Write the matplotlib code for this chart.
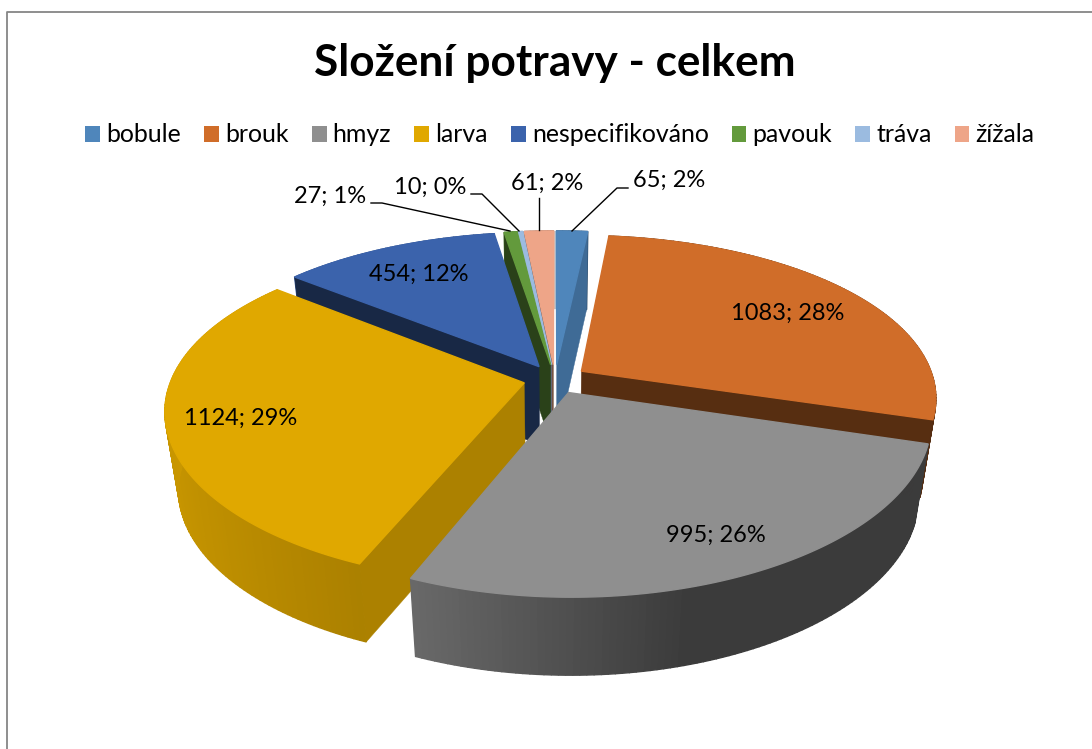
import numpy as np
import matplotlib
matplotlib.use("Agg")
import matplotlib.pyplot as plt
from matplotlib.patches import Patch, Polygon
from matplotlib.lines import Line2D

categories = ["bobule", "brouk", "hmyz", "larva", "nespecifikováno", "pavouk", "tráva", "žížala"]
values = [65, 1083, 995, 1124, 454, 27, 10, 61]
percents = [2, 28, 26, 29, 12, 1, 0, 2]
colors = ["#4f86bb", "#d06d29", "#8f8f8f", "#e0a800", "#3b63ac", "#639a3c", "#9bbbe0", "#eea588"]
face_shade = [0.8, 0.42, 0.5, 0.77, 0.4, 0.42, 0.6, 0.5]
# which cut face of a slice can be seen: 0 start, -1 end
visible_faces = [[-1], [-1], [], [0], [0], [0], [0], [0]]

plt.rcParams["font.family"] = ["Lato", "DejaVu Sans"]

# 3d look: disc (u, v) -> pixels, with a bit of perspective
CX, CY = 555, 375
A, B, KX, KY = 351, 161, 0.18, 0.2
EXPLODE = 0.09
APEX_DROP = 0.025
DEPTH = 78
LOWER = 0.965


def project(u, v, lower=False):
    x = A * u / (1 + KX * v)
    y = B * v / (1 + KY * v)
    if lower:
        return CX + x * LOWER, CY - y + DEPTH
    return CX + x, CY - y


def shade(color, f):
    return tuple(c * f for c in matplotlib.colors.to_rgb(color))


fig = plt.figure(figsize=(10.92, 7.49), dpi=100)
ax = fig.add_axes([0, 0, 1, 1])
ax.set_xlim(0, 1092)
ax.set_ylim(749, 0)
ax.axis("off")

# chart border, only top and left are in the shot
ax.plot([6.5, 6.5, 1092], [749, 11.5, 11.5], color="#868686", lw=1.3)

angles = np.cumsum([0] + values) / sum(values) * 2 * np.pi
draw_order = [7, 6, 5, 4, 0, 1, 3, 2]

for i in draw_order:
    a0, a1 = angles[i], angles[i + 1]
    mid = (a0 + a1) / 2
    ou, ov = EXPLODE * np.sin(mid), EXPLODE * np.cos(mid)
    th = np.linspace(a0, a1, max(int((a1 - a0) * 60), 4))
    us = ou + np.sin(th)
    vs = ov + np.cos(th)
    top = np.array([project(u, v) for u, v in zip(us, vs)])
    bot = np.array([project(u, v, True) for u, v in zip(us, vs)])
    apex = project(ou, ov - APEX_DROP)
    apex_low = project(ou, ov - APEX_DROP, True)

    # outer wall, split up for the gradient
    for j in range(len(th) - 1):
        f = np.interp(us[j], [-1.1, -0.34, 0.32], [0.9, 0.74, 0.41])
        quad = [top[j], top[j + 1], bot[j + 1], bot[j]]
        ax.add_patch(Polygon(quad, closed=True, fc=shade(colors[i], f), ec=shade(colors[i], f), lw=1.0))

    # cut faces
    side = shade(colors[i], face_shade[i])
    for k in visible_faces[i]:
        ax.add_patch(Polygon([apex, top[k], bot[k], apex_low], closed=True, fc=side, ec=side, lw=0.3))

    ax.add_patch(Polygon(np.vstack([[apex], top]), closed=True, fc=colors[i], ec=colors[i], lw=1.0))

ax.text(555, 63, "Složení potravy - celkem", ha="center", va="center", fontsize=31.8, fontweight="bold", color="black")

handles = [Patch(fc=c, ec="none") for c in colors]
ax.legend(handles, categories, loc="center", bbox_to_anchor=(560 / 1092, 1 - 135 / 749), ncol=8,
          frameon=False, fontsize=17.9, handlelength=0.6, handleheight=0.6, handletextpad=0.25,
          columnspacing=0.92, borderpad=0, labelcolor="black")

# data labels
label_pos = [(669, 180), (788, 313), (716, 535), (241, 418), (419, 274), (330, 196), (430, 187), (547, 183)]
for i, (x, y) in enumerate(label_pos):
    ax.text(x, y, f"{values[i]}; {percents[i]}%", ha="center", va="center", fontsize=17, color="black")

# leader lines
leaders = [
    ([628, 617, 572], [188, 188, 231]),
    ([371, 382, 510], [203, 203, 231]),
    ([471, 482, 519], [194, 194, 231]),
    ([539, 539], [198, 230]),
]
for xs, ys in leaders:
    ax.add_line(Line2D(xs, ys, color="black", lw=1))

fig.savefig("out.png", dpi=100)
